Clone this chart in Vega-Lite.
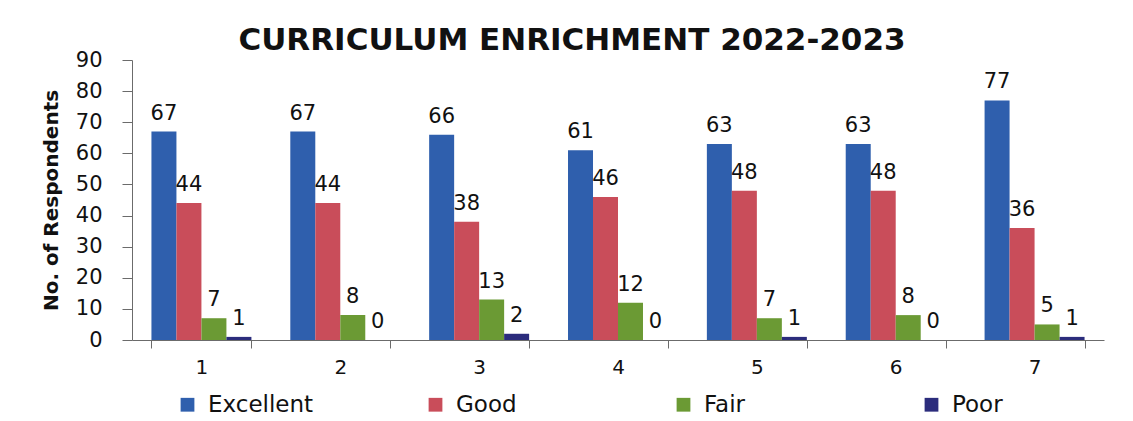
{
  "$schema": "https://vega.github.io/schema/vega-lite/v6.json",
  "autosize": {"type": "none"},
  "width": 972,
  "height": 280,
  "padding": {"left": 132, "top": 60, "right": 29, "bottom": 81},
  "background": "white",
  "title": {
    "text": "CURRICULUM ENRICHMENT 2022-2023",
    "font": "DejaVu Sans",
    "fontWeight": "bold",
    "fontSize": 31,
    "color": "#111111",
    "anchor": "middle",
    "dx": -46,
    "dy": 14,
    "offset": 6
  },
  "data": {
    "values": [
      {"cat": "1", "rating": "Excellent", "n": 67},
      {"cat": "1", "rating": "Good", "n": 44},
      {"cat": "1", "rating": "Fair", "n": 7},
      {"cat": "1", "rating": "Poor", "n": 1},
      {"cat": "2", "rating": "Excellent", "n": 67},
      {"cat": "2", "rating": "Good", "n": 44},
      {"cat": "2", "rating": "Fair", "n": 8},
      {"cat": "2", "rating": "Poor", "n": 0},
      {"cat": "3", "rating": "Excellent", "n": 66},
      {"cat": "3", "rating": "Good", "n": 38},
      {"cat": "3", "rating": "Fair", "n": 13},
      {"cat": "3", "rating": "Poor", "n": 2},
      {"cat": "4", "rating": "Excellent", "n": 61},
      {"cat": "4", "rating": "Good", "n": 46},
      {"cat": "4", "rating": "Fair", "n": 12},
      {"cat": "4", "rating": "Poor", "n": 0},
      {"cat": "5", "rating": "Excellent", "n": 63},
      {"cat": "5", "rating": "Good", "n": 48},
      {"cat": "5", "rating": "Fair", "n": 7},
      {"cat": "5", "rating": "Poor", "n": 1},
      {"cat": "6", "rating": "Excellent", "n": 63},
      {"cat": "6", "rating": "Good", "n": 48},
      {"cat": "6", "rating": "Fair", "n": 8},
      {"cat": "6", "rating": "Poor", "n": 0},
      {"cat": "7", "rating": "Excellent", "n": 77},
      {"cat": "7", "rating": "Good", "n": 36},
      {"cat": "7", "rating": "Fair", "n": 5},
      {"cat": "7", "rating": "Poor", "n": 1}
    ]
  },
  "encoding": {
    "x": {
      "field": "cat",
      "type": "nominal",
      "sort": null,
      "scale": {"paddingInner": 0.28, "paddingOuter": 0.14},
      "axis": {
        "title": null,
        "labelAngle": 0,
        "labelFont": "DejaVu Sans",
        "labelFontSize": 20,
        "labelColor": "#111111",
        "labelPadding": 9,
        "tickBand": "extent",
        "tickSize": 8,
        "tickColor": "#6b6b6b",
        "domainColor": "#6b6b6b",
        "grid": false
      }
    },
    "xOffset": {
      "field": "rating",
      "type": "nominal",
      "sort": ["Excellent", "Good", "Fair", "Poor"],
      "scale": {"paddingInner": 0, "paddingOuter": 0}
    },
    "y": {
      "field": "n",
      "type": "quantitative",
      "scale": {"domain": [0, 90]},
      "axis": {
        "title": "No. of Respondents",
        "titleFont": "DejaVu Sans",
        "titleFontWeight": "bold",
        "titleFontSize": 20,
        "titleColor": "#111111",
        "titlePadding": 14,
        "values": [0, 10, 20, 30, 40, 50, 60, 70, 80, 90],
        "labelFont": "DejaVu Sans",
        "labelFontSize": 21,
        "labelColor": "#111111",
        "labelPadding": 20,
        "tickSize": 10,
        "tickColor": "#6b6b6b",
        "domainColor": "#6b6b6b",
        "grid": false
      }
    }
  },
  "layer": [
    {
      "mark": {"type": "bar"},
      "encoding": {
        "color": {
          "field": "rating",
          "type": "nominal",
          "sort": ["Excellent", "Good", "Fair", "Poor"],
          "scale": {
            "domain": ["Excellent", "Good", "Fair", "Poor"],
            "range": ["#2f5fad", "#c94d5a", "#6b9a34", "#2b2c7c"]
          },
          "legend": {
            "title": null,
            "orient": "none",
            "legendX": 44,
            "legendY": 333,
            "direction": "horizontal",
            "columns": 4,
            "gridAlign": "all",
            "columnPadding": 110,
            "symbolType": "square",
            "symbolSize": 190,
            "symbolStrokeWidth": 0,
            "labelFont": "DejaVu Sans",
            "labelFontSize": 23,
            "labelColor": "#111111",
            "labelOffset": 9
          }
        }
      }
    },
    {
      "mark": {
        "type": "text",
        "baseline": "bottom",
        "dy": -8,
        "font": "DejaVu Sans",
        "fontSize": 21,
        "color": "#111111"
      },
      "encoding": {
        "text": {"field": "n", "type": "quantitative"}
      }
    }
  ],
  "config": {"view": {"stroke": null}}
}
